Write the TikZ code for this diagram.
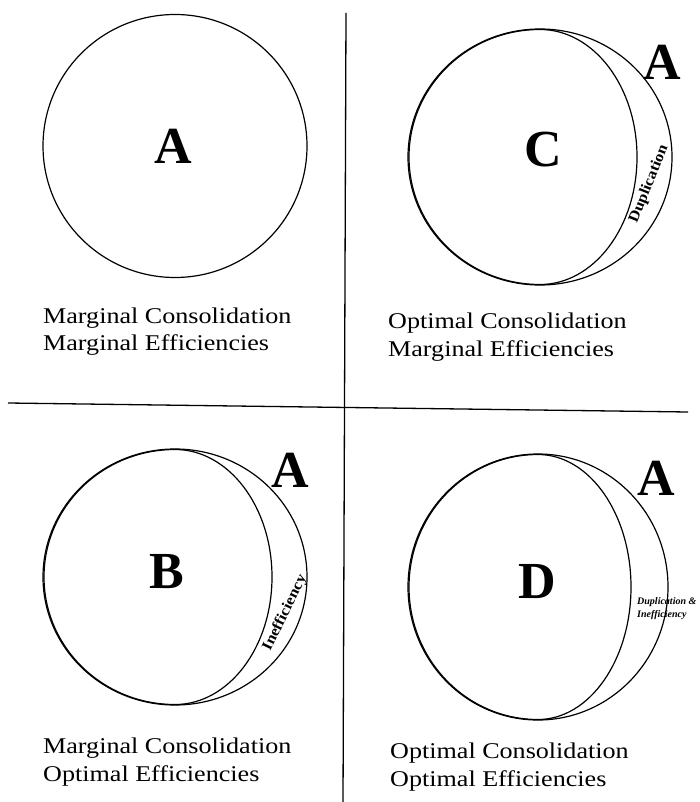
\documentclass[tikz,border=0pt]{standalone}
\usepackage{fontspec}
\setmainfont{Liberation Serif}
\newfontfamily\labfont{Liberation Serif}[FakeStretch=1.16]
\newfontfamily\crfont{Liberation Serif}[FakeStretch=1.1]
\usetikzlibrary{shapes.geometric}
\tikzset{
  ring/.style={draw, ellipse, line width=1.2pt, inner sep=0pt},
  ringline/.style={draw, line width=1.2pt},
  bigletter/.style={font=\fontsize{52}{52}\selectfont\bfseries, inner sep=0pt},
  caption/.style={font=\labfont\fontsize{22.5}{27}\selectfont, anchor=base west, inner sep=0pt},
  crescent/.style={font=\crfont\fontsize{15}{15}\selectfont\bfseries, inner sep=0pt},
  smallnote/.style={font=\fontsize{10}{12}\selectfont\bfseries\itshape, inner sep=0pt, anchor=base west},
  divider/.style={line width=1.3pt}
}
\begin{document}
\begin{tikzpicture}[x=1pt,y=-1pt]
\useasboundingbox (0,0) rectangle (699,802);
% dividers
\coordinate (vt) at (346,13);
\coordinate (vb) at (343,802);
\coordinate (hl) at (8,403);
\coordinate (hr) at (688,412);
\draw[divider] (vt) -- (vb);
\draw[divider] (hl) -- (hr);

% panel 1
\node[ring, minimum width=264pt, minimum height=263pt] (a1) at (175,146) {};
\node[bigletter] (la1) at (173,146) {A};
\node[caption] (c1a) at (43,323) {Marginal Consolidation};
\node[caption] (c1b) at (43,350) {Marginal Efficiencies};

% panel 2
\node[ring, minimum width=264pt, minimum height=256pt] (a2) at (540,157) {};
\coordinate (c2top) at (540,29.5);
\draw[ringline] (c2top) arc[start angle=270, end angle=90, x radius=131, y radius=127.5]
                arc[start angle=90, end angle=-90, x radius=97, y radius=127.5] -- cycle;
\node[bigletter] (lc2) at (543,150) {C};
\node[bigletter] (la2) at (662,62) {A};
\node[crescent, rotate=68] (dup2) at (649,184) {Duplication};
\node[caption] (c2a) at (388,328) {Optimal Consolidation};
\node[caption] (c2b) at (388,356) {Marginal Efficiencies};

% panel 3
\node[ring, minimum width=264pt, minimum height=256pt] (a3) at (175,577) {};
\coordinate (b3top) at (175,449.5);
\draw[ringline] (b3top) arc[start angle=270, end angle=90, x radius=131, y radius=127.5]
                arc[start angle=90, end angle=-90, x radius=97, y radius=127.5] -- cycle;
\node[bigletter] (lb3) at (167,572) {B};
\node[bigletter] (la3) at (290,470) {A};
\node[crescent, rotate=64] (ineff3) at (285,613) {Inefficiency};
\node[caption] (c3a) at (43,753) {Marginal Consolidation};
\node[caption] (c3b) at (43,781) {Optimal Efficiencies};

% panel 4
\node[ring, minimum width=260pt, minimum height=266pt] (a4) at (538,587) {};
\coordinate (d4top) at (538,454.5);
\draw[ringline] (d4top) arc[start angle=270, end angle=90, x radius=129, y radius=132.5]
                arc[start angle=90, end angle=-90, x radius=93, y radius=132.5] -- cycle;
\node[bigletter] (ld4) at (537,582) {D};
\node[bigletter] (la4) at (656,478) {A};
\node[smallnote] (n4a) at (637,604) {Duplication \&};
\node[smallnote] (n4b) at (637,617) {Inefficiency};
\node[caption] (c4a) at (390,758) {Optimal Consolidation};
\node[caption] (c4b) at (390,786) {Optimal Efficiencies};
\end{tikzpicture}
\end{document}
